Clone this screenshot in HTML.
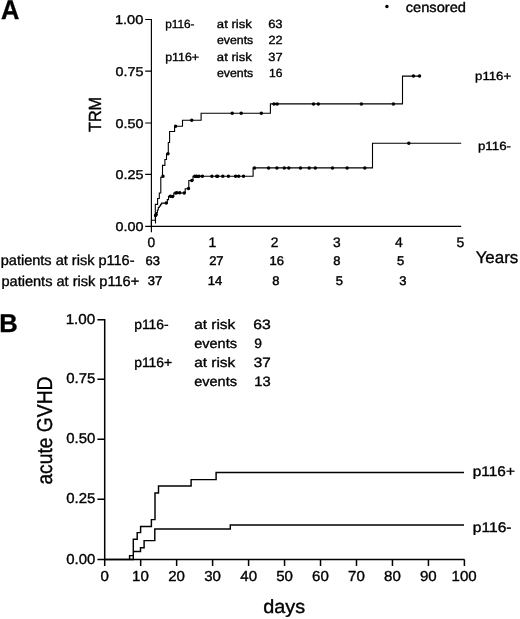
<!DOCTYPE html>
<html><head><meta charset="utf-8"><title>Figure</title>
<style>html,body{margin:0;padding:0;background:#fff;} body{width:520px;height:619px;overflow:hidden;font-family:"Liberation Sans",sans-serif;} svg{display:block;will-change:transform;filter:blur(0.3px);}</style>
</head><body>
<svg width="520" height="619" viewBox="0 0 520 619">
<rect width="520" height="619" fill="#fff"/>
<g stroke-linecap="butt" stroke-linejoin="miter">
<path d="M145.2,19.5H151.4V226.3H461.2 M145.2,71.1H151.4 M145.2,123H151.4 M145.2,174.3H151.4 M145.2,226.3H151.4 M151.4,226.3V232.3" stroke="#000" stroke-width="1.15" fill="none"/>
<path d="M151.4,226.2V220.3H155.3V204.4H157.6V198.5H159.3V193H160.8V177.3H162.5V165.4H164.9V159.5H166.5V154H168.3V142.5H169.6V131.5H174.6V126.2H182.5V120.2H201.1V113.2H270.4V103.9H402.5V76.1H420 M155.5,223.4V215H156.6V212.5H157.4V210H158.3V207.5H159.3V206H160.6V204.3H161.6V203.1H167.3V199.6H168.5V196.4H173.8V193H185.2V188.8H188.8V180.5H193V176.2H253.1V167.9H372.5V143.3H461.2" stroke="#000" stroke-width="1.1" fill="none"/>
<path d="M153.75,215.40a1.75,1.75 0 1,0 3.5,0a1.75,1.75 0 1,0 -3.5,0ZM161.25,176.20a1.75,1.75 0 1,0 3.5,0a1.75,1.75 0 1,0 -3.5,0ZM166.25,153.80a1.75,1.75 0 1,0 3.5,0a1.75,1.75 0 1,0 -3.5,0ZM173.85,126.20a1.75,1.75 0 1,0 3.5,0a1.75,1.75 0 1,0 -3.5,0ZM189.95,120.20a1.75,1.75 0 1,0 3.5,0a1.75,1.75 0 1,0 -3.5,0ZM230.45,113.20a1.75,1.75 0 1,0 3.5,0a1.75,1.75 0 1,0 -3.5,0ZM239.45,113.20a1.75,1.75 0 1,0 3.5,0a1.75,1.75 0 1,0 -3.5,0ZM259.55,113.20a1.75,1.75 0 1,0 3.5,0a1.75,1.75 0 1,0 -3.5,0ZM272.25,103.90a1.75,1.75 0 1,0 3.5,0a1.75,1.75 0 1,0 -3.5,0ZM275.45,103.90a1.75,1.75 0 1,0 3.5,0a1.75,1.75 0 1,0 -3.5,0ZM311.75,103.90a1.75,1.75 0 1,0 3.5,0a1.75,1.75 0 1,0 -3.5,0ZM316.55,103.90a1.75,1.75 0 1,0 3.5,0a1.75,1.75 0 1,0 -3.5,0ZM359.65,103.90a1.75,1.75 0 1,0 3.5,0a1.75,1.75 0 1,0 -3.5,0ZM391.65,103.90a1.75,1.75 0 1,0 3.5,0a1.75,1.75 0 1,0 -3.5,0ZM411.65,76.10a1.75,1.75 0 1,0 3.5,0a1.75,1.75 0 1,0 -3.5,0ZM417.75,76.10a1.75,1.75 0 1,0 3.5,0a1.75,1.75 0 1,0 -3.5,0ZM154.45,214.50a1.75,1.75 0 1,0 3.5,0a1.75,1.75 0 1,0 -3.5,0ZM164.45,203.10a1.75,1.75 0 1,0 3.5,0a1.75,1.75 0 1,0 -3.5,0ZM168.65,196.30a1.75,1.75 0 1,0 3.5,0a1.75,1.75 0 1,0 -3.5,0ZM170.75,196.40a1.75,1.75 0 1,0 3.5,0a1.75,1.75 0 1,0 -3.5,0ZM174.05,193.00a1.75,1.75 0 1,0 3.5,0a1.75,1.75 0 1,0 -3.5,0ZM175.15,192.80a1.75,1.75 0 1,0 3.5,0a1.75,1.75 0 1,0 -3.5,0ZM178.05,192.80a1.75,1.75 0 1,0 3.5,0a1.75,1.75 0 1,0 -3.5,0ZM182.45,192.90a1.75,1.75 0 1,0 3.5,0a1.75,1.75 0 1,0 -3.5,0ZM186.75,188.60a1.75,1.75 0 1,0 3.5,0a1.75,1.75 0 1,0 -3.5,0ZM190.05,180.50a1.75,1.75 0 1,0 3.5,0a1.75,1.75 0 1,0 -3.5,0ZM193.05,176.20a1.75,1.75 0 1,0 3.5,0a1.75,1.75 0 1,0 -3.5,0ZM194.85,176.20a1.75,1.75 0 1,0 3.5,0a1.75,1.75 0 1,0 -3.5,0ZM197.25,176.20a1.75,1.75 0 1,0 3.5,0a1.75,1.75 0 1,0 -3.5,0ZM200.65,176.20a1.75,1.75 0 1,0 3.5,0a1.75,1.75 0 1,0 -3.5,0ZM210.15,176.20a1.75,1.75 0 1,0 3.5,0a1.75,1.75 0 1,0 -3.5,0ZM214.95,176.20a1.75,1.75 0 1,0 3.5,0a1.75,1.75 0 1,0 -3.5,0ZM215.95,176.20a1.75,1.75 0 1,0 3.5,0a1.75,1.75 0 1,0 -3.5,0ZM221.05,176.20a1.75,1.75 0 1,0 3.5,0a1.75,1.75 0 1,0 -3.5,0ZM226.65,176.20a1.75,1.75 0 1,0 3.5,0a1.75,1.75 0 1,0 -3.5,0ZM233.85,176.20a1.75,1.75 0 1,0 3.5,0a1.75,1.75 0 1,0 -3.5,0ZM236.95,176.20a1.75,1.75 0 1,0 3.5,0a1.75,1.75 0 1,0 -3.5,0ZM241.75,176.20a1.75,1.75 0 1,0 3.5,0a1.75,1.75 0 1,0 -3.5,0ZM252.75,167.90a1.75,1.75 0 1,0 3.5,0a1.75,1.75 0 1,0 -3.5,0ZM266.85,167.90a1.75,1.75 0 1,0 3.5,0a1.75,1.75 0 1,0 -3.5,0ZM275.15,167.90a1.75,1.75 0 1,0 3.5,0a1.75,1.75 0 1,0 -3.5,0ZM282.55,167.90a1.75,1.75 0 1,0 3.5,0a1.75,1.75 0 1,0 -3.5,0ZM287.05,167.90a1.75,1.75 0 1,0 3.5,0a1.75,1.75 0 1,0 -3.5,0ZM298.75,167.90a1.75,1.75 0 1,0 3.5,0a1.75,1.75 0 1,0 -3.5,0ZM307.45,167.90a1.75,1.75 0 1,0 3.5,0a1.75,1.75 0 1,0 -3.5,0ZM313.55,167.90a1.75,1.75 0 1,0 3.5,0a1.75,1.75 0 1,0 -3.5,0ZM330.75,168.00a1.75,1.75 0 1,0 3.5,0a1.75,1.75 0 1,0 -3.5,0ZM345.35,168.00a1.75,1.75 0 1,0 3.5,0a1.75,1.75 0 1,0 -3.5,0ZM363.05,168.00a1.75,1.75 0 1,0 3.5,0a1.75,1.75 0 1,0 -3.5,0ZM407.05,143.30a1.75,1.75 0 1,0 3.5,0a1.75,1.75 0 1,0 -3.5,0ZM385.15,6.60a1.75,1.75 0 1,0 3.5,0a1.75,1.75 0 1,0 -3.5,0Z" fill="#000"/>
<path d="M97.4,319.8H104.7V559.5H464.5 M104.70,559.5V565.9M140.67,559.5V565.9M176.64,559.5V565.9M212.61,559.5V565.9M248.58,559.5V565.9M284.55,559.5V565.9M320.52,559.5V565.9M356.49,559.5V565.9M392.46,559.5V565.9M428.43,559.5V565.9M464.40,559.5V565.9 M97.4,319.8H104.7M97.4,379.3H104.7M97.4,439.3H104.7M97.4,499.3H104.7M97.4,559.5H104.7" stroke="#000" stroke-width="1.5" fill="none"/>
<path d="M104.7,559.4H133.3V539.2H137.2V532.6H140.6V526.4H151.4V519.6H155.0V492.9H158.5V486H191.1V479.6H216.1V472.5H464 M104.7,559.4H129.6V555.6H133.3V551.4H140.5V547.8H144.1V540.6H154.8V529H230.3V524.9H464" stroke="#000" stroke-width="1.45" fill="none"/>
</g>
<g font-family="Liberation Sans, sans-serif" text-rendering="geometricPrecision" fill="#000" stroke="#000" stroke-width="0.35">
<text transform="translate(1.06,18.50) scale(0.935,1)" font-size="27.18" font-weight="bold">A</text>
<text transform="translate(114.89,24.05) scale(1.148,1)" font-size="12.75">1.00</text>
<text transform="translate(115.44,75.65) scale(1.127,1)" font-size="12.75">0.75</text>
<text transform="translate(115.44,127.55) scale(1.125,1)" font-size="12.75">0.50</text>
<text transform="translate(115.44,178.85) scale(1.127,1)" font-size="12.75">0.25</text>
<text transform="translate(115.44,230.85) scale(1.125,1)" font-size="12.75">0.00</text>
<text transform="translate(147.58,246.80) scale(1.000,1)" font-size="13.75">0</text>
<text transform="translate(208.43,246.80) scale(1.000,1)" font-size="13.95">1</text>
<text transform="translate(270.68,246.80) scale(1.000,1)" font-size="13.75">2</text>
<text transform="translate(333.02,246.80) scale(1.000,1)" font-size="13.75">3</text>
<text transform="translate(394.96,246.80) scale(1.000,1)" font-size="13.95">4</text>
<text transform="translate(456.43,246.80) scale(1.000,1)" font-size="13.95">5</text>
<text transform="translate(475.63,263.00) scale(1.013,1)" font-size="16.72">Years</text>
<text transform="translate(100.80,131.96) rotate(-90) scale(0.921,1)" font-size="17.59">TRM</text>
<text transform="translate(0.75,264.90) scale(1.024,1)" font-size="14.20">patients at risk p116-</text>
<text transform="translate(1.45,285.80) scale(1.026,1)" font-size="14.20">patients at risk p116+</text>
<text transform="translate(145.44,265.30) scale(1.030,1)" font-size="12.60" stroke-width="0.45">63</text>
<text transform="translate(209.13,265.30) scale(1.030,1)" font-size="12.60" stroke-width="0.45">27</text>
<text transform="translate(269.43,265.30) scale(1.030,1)" font-size="12.60" stroke-width="0.45">16</text>
<text transform="translate(333.34,265.30) scale(1.030,1)" font-size="12.60" stroke-width="0.45">8</text>
<text transform="translate(396.91,265.30) scale(1.030,1)" font-size="12.60" stroke-width="0.45">5</text>
<text transform="translate(147.76,284.90) scale(1.030,1)" font-size="12.60" stroke-width="0.45">37</text>
<text transform="translate(207.73,284.90) scale(1.030,1)" font-size="12.60" stroke-width="0.45">14</text>
<text transform="translate(272.34,284.90) scale(1.030,1)" font-size="12.60" stroke-width="0.45">8</text>
<text transform="translate(335.66,284.90) scale(1.030,1)" font-size="12.60" stroke-width="0.45">5</text>
<text transform="translate(399.28,284.90) scale(1.030,1)" font-size="12.60" stroke-width="0.45">3</text>
<text transform="translate(165.23,27.90) scale(1.000,1)" font-size="11.80">p116-</text>
<text transform="translate(216.85,27.70) scale(1.110,1)" font-size="11.80">at risk</text>
<text transform="translate(268.14,27.80) scale(1.100,1)" font-size="11.80">63</text>
<text transform="translate(216.88,44.00) scale(1.046,1)" font-size="11.80">events</text>
<text transform="translate(268.57,44.20) scale(1.072,1)" font-size="11.80">22</text>
<text transform="translate(165.19,60.90) scale(1.051,1)" font-size="11.80">p116+</text>
<text transform="translate(216.85,60.80) scale(1.110,1)" font-size="11.80">at risk</text>
<text transform="translate(268.31,60.80) scale(1.092,1)" font-size="11.80">37</text>
<text transform="translate(216.88,77.30) scale(1.046,1)" font-size="11.80">events</text>
<text transform="translate(269.08,77.40) scale(1.025,1)" font-size="11.80">16</text>
<text transform="translate(405.68,11.50) scale(1.055,1)" font-size="13.90">censored</text>
<text transform="translate(475.04,79.60) scale(1.110,1)" font-size="11.90">p116+</text>
<text transform="translate(477.93,150.20) scale(1.119,1)" font-size="11.90">p116-</text>
<text transform="translate(-0.81,331.50) scale(0.994,1)" font-size="25.73" font-weight="bold">B</text>
<text transform="translate(65.64,323.90) scale(1.064,1)" font-size="14.33">1.00</text>
<text transform="translate(66.22,383.40) scale(1.044,1)" font-size="14.33">0.75</text>
<text transform="translate(66.22,443.40) scale(1.043,1)" font-size="14.33">0.50</text>
<text transform="translate(66.22,503.40) scale(1.044,1)" font-size="14.33">0.25</text>
<text transform="translate(66.22,563.60) scale(1.043,1)" font-size="14.33">0.00</text>
<text transform="translate(100.52,581.40) scale(1.040,1)" font-size="14.47">0</text>
<text transform="translate(132.02,581.40) scale(1.040,1)" font-size="14.47">10</text>
<text transform="translate(168.19,581.40) scale(1.040,1)" font-size="14.47">20</text>
<text transform="translate(204.25,581.40) scale(1.040,1)" font-size="14.47">30</text>
<text transform="translate(240.33,581.40) scale(1.040,1)" font-size="14.47">40</text>
<text transform="translate(276.18,581.40) scale(1.040,1)" font-size="14.47">50</text>
<text transform="translate(312.06,581.40) scale(1.040,1)" font-size="14.47">60</text>
<text transform="translate(348.03,581.40) scale(1.040,1)" font-size="14.47">70</text>
<text transform="translate(384.06,581.40) scale(1.040,1)" font-size="14.47">80</text>
<text transform="translate(420.00,581.40) scale(1.040,1)" font-size="14.47">90</text>
<text transform="translate(451.57,581.40) scale(1.040,1)" font-size="14.47">100</text>
<text transform="translate(263.27,613.30) scale(1.045,1)" font-size="19.00">days</text>
<text transform="translate(51.50,484.61) rotate(-90) scale(0.896,1)" font-size="21.49">acute GVHD</text>
<text transform="translate(134.20,328.70) scale(1.027,1)" font-size="13.50">p116-</text>
<text transform="translate(194.15,328.80) scale(1.142,1)" font-size="13.50">at risk</text>
<text transform="translate(253.20,328.80) scale(1.165,1)" font-size="13.50">63</text>
<text transform="translate(194.19,347.60) scale(1.074,1)" font-size="13.50">events</text>
<text transform="translate(254.25,347.60) scale(1.026,1)" font-size="13.50">9</text>
<text transform="translate(134.20,366.90) scale(1.029,1)" font-size="13.50">p116+</text>
<text transform="translate(194.15,366.90) scale(1.142,1)" font-size="13.50">at risk</text>
<text transform="translate(253.82,366.90) scale(1.128,1)" font-size="13.50">37</text>
<text transform="translate(194.19,385.90) scale(1.074,1)" font-size="13.50">events</text>
<text transform="translate(254.28,385.90) scale(1.090,1)" font-size="13.50">13</text>
<text transform="translate(472.80,476.10) scale(1.101,1)" font-size="14.00">p116+</text>
<text transform="translate(472.79,532.30) scale(1.113,1)" font-size="14.00">p116-</text>
</g>
</svg>
</body></html>
